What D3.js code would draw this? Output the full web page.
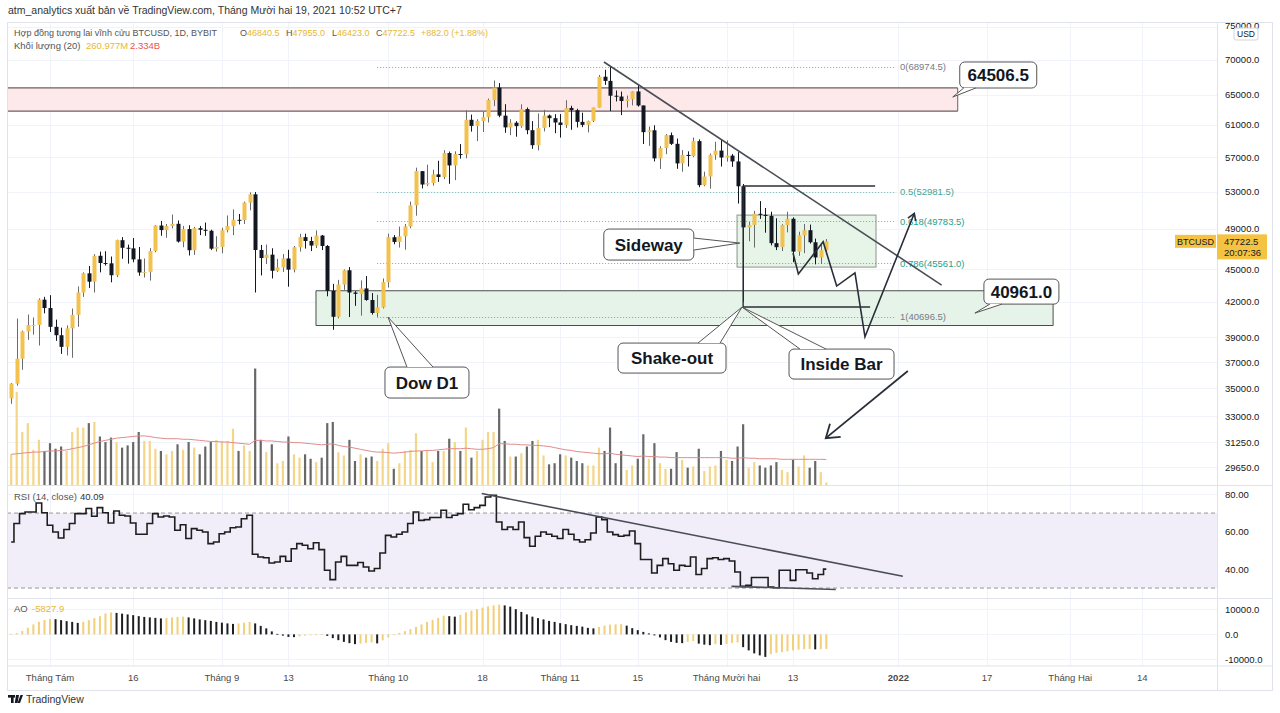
<!DOCTYPE html>
<html lang="vi">
<head>
<meta charset="UTF-8">
<title>BTCUSD 1D - BYBIT</title>
<script src="https://d3js.org/d3.v7.min.js"></script>
<style>
  body { margin: 0; background: #fff; }
  svg text { font-family: "Liberation Sans", Arial, sans-serif; }
  .note text { font-weight: bold; }
</style>
</head>
<body>
<svg id="chart" width="1280" height="713"></svg>
<script>
// ---- data (daily, starting 2021-07-25) ----
const firstDate = '2021-07-25';
const opens = [34270,35350,37260,39460,40000,40010,42200,41460,39850,39150,38200,39720,40870,42840,44610,43830,46290,45590,45560,44430,47840,47080,47020,45940,44690,44740,46760,49340,48870,49290,49520,47700,48970,46840,49070,48900,48800,46990,47160,48850,49280,49940,49920,51790,52700,46860,46070,46400,44850,45170,46030,44960,47130,48150,47760,47300,48310,47260,42990,40700,43570,44900,42840,42720,43210,42170,41030,41520,43790,48140,47660,48230,49250,51490,55340,53800,53970,54960,54660,57490,56010,57370,57350,61670,60880,61530,62010,64280,66000,62210,60690,61290,60850,63080,60330,58450,60620,62230,61880,61320,61000,63230,62930,61400,61010,61530,63280,67530,66940,64880,64770,64160,64400,65470,63560,60080,60320,56850,58100,59700,58620,56250,57270,57140,58960,53730,54720,57270,57790,56950,57180,56480,53600,49150,49400,50580,50470,50350,47540,47140,49390,50050,46700,48340,48860,47630,46130,46840];
const highs = [35400,40550,39540,40900,40640,42320,42450,42600,40460,39780,39970,41420,43390,44700,45310,46450,46700,46740,46220,47890,48150,47390,48050,47160,46030,47050,49380,49820,49500,50500,49870,49300,49370,49200,49300,49650,48910,48240,49120,50400,51050,50560,51900,52920,52950,47360,47400,47030,45990,46460,46880,47250,48490,48500,48180,48840,48370,47350,43630,44000,44980,45200,42970,43950,44350,42790,42630,44130,48500,48360,49230,49500,51890,55750,55340,56100,55500,56560,57840,57680,57700,58580,62930,62350,61740,62700,64490,67000,66640,63730,61750,61490,63710,63290,61500,62500,62980,62360,62400,62420,64270,63520,63120,62600,61560,63290,67790,68530,68974.5,65600,65450,64900,65500,66400,63560,60800,60960,58320,59850,60030,59270,57850,57700,59400,59180,55280,57440,58870,59170,59050,57370,57600,53860,49700,50900,51950,51200,50800,50100,49480,50800,50200,48700,49500,49440,48000,47400,47955];
const lows = [33880,35200,36400,38770,39200,38310,41000,39420,38690,37640,37510,37330,39850,42450,43260,42840,44700,45350,43770,44250,46000,45530,45660,44380,44220,43930,46630,48290,48080,49040,47600,47130,46320,46380,48350,48280,46850,46700,46530,48630,48350,49460,49500,50950,42840,44410,45500,44130,44740,44740,43370,44700,46700,47000,46750,47050,46850,42500,39600,40570,43080,40680,41650,40800,42100,40890,40696.5,41420,43290,47430,47100,46890,49060,50380,53360,53620,53680,54100,54420,53880,54300,56820,56850,60150,58960,60100,61320,63480,62000,60000,59700,59510,60650,59820,58000,57820,60170,60720,59950,59400,60620,60380,60680,60720,60050,61380,63280,66380,62820,64100,62280,63300,63570,63400,58600,58370,56480,55600,57350,58480,55610,55270,55880,57000,53500,53610,53330,56680,55880,56460,55840,51680,42000,47730,47100,50040,48600,47320,46850,46750,48640,45670,46290,46550,47500,45460,45500,46423];
const closes = [35350,37260,39460,40000,40010,42200,41460,39850,39150,38200,39720,40870,42840,44610,43830,46290,45590,45560,44430,47840,47080,47020,45940,44690,44740,46760,49340,48870,49290,49520,47700,48970,46840,49070,48900,48800,46990,47160,48850,49280,49940,49920,51790,52700,46860,46070,46400,44850,45170,46030,44960,47130,48150,47760,47300,48310,47260,42990,40700,43570,44900,42840,42720,43210,42170,41030,41520,43790,48140,47660,48230,49250,51490,55340,53800,53970,54960,54660,57490,56010,57370,57350,61670,60880,61530,62010,64280,66000,62210,60690,61290,60850,63080,60330,58450,60620,62230,61880,61320,61000,63230,62930,61400,61010,61530,63280,67530,66940,64880,64770,64160,64400,65470,63560,60080,60320,56850,58100,59700,58620,56250,57270,57140,58960,53730,54720,57270,57790,56950,57180,56480,53600,49150,49400,50580,50470,50350,47540,47140,49390,50050,46700,48340,48860,47630,46130,46840,47722.5];
// volume, billions of contracts
const volumes = [2.8,8.4,4.8,5.6,3.2,4.1,3.1,3.8,3.3,3.5,3.1,4.8,5.2,5.2,5.6,5.7,4.4,3.9,4.3,3.9,3.4,3.6,3.9,4.8,4.0,4.0,3.3,3.1,2.8,3.1,3.7,3.2,3.9,3.4,2.8,3.5,3.9,4.1,4.0,4.0,5.1,3.1,3.6,3.1,10.5,4.1,3.0,3.7,2.0,2.2,4.4,2.8,2.5,2.8,2.4,2.1,2.5,5.6,5.7,3.0,2.7,4.1,2.2,2.8,2.5,2.6,2.2,3.3,3.8,1.5,2.0,3.1,3.2,4.7,3.1,3.1,2.1,3.1,3.1,4.2,3.9,3.1,5.2,2.5,3.1,4.1,4.8,4.8,6.9,4.0,2.6,2.6,2.9,3.5,4.0,4.1,2.7,1.9,2.0,2.8,2.7,2.5,2.2,2.0,1.8,1.8,3.4,3.1,5.2,2.0,3.1,1.4,1.8,2.4,4.6,2.4,3.8,2.0,1.5,1.5,3.0,2.3,1.6,1.7,3.3,1.3,1.7,1.8,3.1,2.3,2.2,3.5,5.5,1.6,2.1,1.8,1.6,1.8,2.1,1.4,1.2,2.3,1.7,2.7,1.6,2.2,1.2,0.261];
const volumeMA = [2.8,2.85,2.9,2.95,3.0,3.0,3.05,3.1,3.1,3.15,3.2,3.3,3.4,3.5,3.65,3.8,3.95,4.05,4.15,4.25,4.3,4.35,4.4,4.45,4.45,4.4,4.3,4.25,4.2,4.2,4.2,4.15,4.15,4.1,4.05,4.0,3.95,3.95,3.9,3.9,3.85,3.8,3.75,3.7,4.05,4.05,4.0,4.0,3.95,3.9,3.9,3.85,3.85,3.8,3.75,3.7,3.65,3.7,3.75,3.6,3.5,3.45,3.35,3.25,3.15,3.05,3.0,3.0,2.95,2.9,2.95,3.0,3.05,3.1,3.1,3.15,3.15,3.2,3.25,3.3,3.3,3.3,3.35,3.3,3.25,3.25,3.3,3.4,3.75,3.75,3.7,3.7,3.65,3.65,3.6,3.6,3.55,3.5,3.4,3.3,3.2,3.15,3.05,3.0,2.95,2.9,2.85,2.85,2.9,2.8,2.75,2.7,2.65,2.6,2.65,2.6,2.6,2.55,2.55,2.5,2.5,2.5,2.5,2.5,2.5,2.5,2.5,2.5,2.5,2.5,2.45,2.45,2.5,2.45,2.45,2.4,2.4,2.4,2.4,2.35,2.35,2.35,2.35,2.35,2.35,2.35,2.35,2.334];
const rsiValues = [54.6,64.4,69.7,70.6,70.6,75.4,70.2,63.5,59.9,56.7,61.2,64.4,69.7,69.7,72.4,68.3,72.9,70.2,64.7,71.1,68.8,68.4,64.7,58.7,58.7,64.4,69.7,67.9,68.4,67.9,60.8,63.8,56.4,61.7,60.8,59.9,53.7,54.6,59.0,59.9,62.2,62.6,67.0,68.8,48.0,46.6,46.2,43.4,43.9,46.9,44.3,51.0,53.7,52.8,51.0,54.2,50.5,39.5,34.5,43.9,46.9,42.1,42.1,43.6,41.2,39.1,40.4,48.7,58.1,57.2,58.7,59.9,64.4,70.6,66.1,66.5,67.6,67.6,71.5,67.6,68.8,69.7,74.7,71.8,72.9,74.1,78.6,79.5,65.2,61.2,62.6,61.2,65.2,56.9,52.3,57.6,59.9,58.7,57.6,56.4,61.2,58.7,55.8,54.6,55.8,59.4,67.9,66.5,59.9,58.5,57.6,58.1,60.4,53.7,45.2,45.2,38.0,42.1,45.7,43.0,39.5,42.1,41.6,46.6,37.2,40.4,45.7,46.2,45.2,45.7,44.4,38.6,30.9,31.5,35.6,35.6,35.6,30.6,30.2,39.5,39.5,34.1,39.8,39.8,38.0,35.0,37.2,40.09];
// awesome oscillator, thousands
const aoValues = [0.2,0.5,1.4,2.7,4.0,5.0,5.8,6.2,6.1,5.7,5.3,5.0,4.6,5.0,5.7,6.5,7.3,8.4,8.8,8.6,8.3,8.0,7.7,7.3,7.0,6.8,6.6,6.4,6.6,6.8,7.0,7.1,6.8,6.4,6.0,5.7,5.4,5.0,4.7,4.4,4.2,4.4,4.7,5.0,4.4,3.4,2.4,1.2,0.2,-0.5,-1.0,-1.1,-0.8,-0.5,-0.2,0.0,0.1,-0.6,-1.5,-2.3,-3.0,-3.5,-3.9,-3.7,-3.4,-3.2,-3.6,-2.4,-1.2,0.0,0.6,1.3,2.1,3.0,4.0,5.0,5.8,6.6,7.5,7.3,7.1,7.8,8.8,9.5,10.1,10.7,11.2,11.6,11.9,11.6,11.1,10.1,9.0,8.0,7.1,6.5,6.0,5.4,5.0,4.5,4.1,3.7,3.4,3.1,2.6,2.4,3.0,3.5,3.9,4.0,4.1,3.5,2.5,1.7,1.0,0.4,-0.4,-1.2,-2.3,-3.0,-3.4,-3.5,-3.0,-2.6,-3.7,-4.1,-4.3,-3.9,-4.2,-3.8,-3.4,-3.2,-5.1,-6.4,-7.6,-8.4,-9.0,-7.9,-7.4,-7.1,-6.8,-6.4,-6.1,-5.9,-5.8,-6.0,-5.9,-5.8279];

const priceTicks = [75000,70000,65000,61000,57000,53000,49000,45000,42000,39000,37000,35000,33000,31250,29650];
const rsiTicks = [80,60,40];
const aoTicks = [10,0,-10];
const timeTicks = [['2021-08-01','Tháng Tám'],['2021-08-16','16'],['2021-09-01','Tháng 9'],['2021-09-13','13'],
  ['2021-10-01','Tháng 10'],['2021-10-18','18'],['2021-11-01','Tháng 11'],['2021-11-15','15'],
  ['2021-12-01','Tháng Mười hai'],['2021-12-13','13'],['2022-01-01','2022'],['2022-01-17','17'],
  ['2022-02-01','Tháng Hai'],['2022-02-14','14']];
const fibLevels = [['0',68974.5,'#787b86'],['0.5',52981.5,'#43a58f'],['0.618',49783.5,'#26a08c'],['0.786',45561.0,'#26a08c'],['1',40696.5,'#787b86']];

// drawings (day index from first date, price)
const pinkZone = {from: -6, to: 170.7, low: 62800, high: 65950};
const greenZone = {from: 54.97, to: 187.9, low: 39960, high: 43000};
const sidewayBox = {from: 130.9, to: 155.96, low: 45200, high: 50440};
const fibRange = {from: 66, to: 159.4};
const trendLine = [[106.9, 69660], [167.8, 43520]];
const shakeLines = [[[131.9, 53630], [155.8, 53630]], [[132, 53630], [132, 41545]], [[132, 41545], [154.9, 41545]]];
const zigzag = [[141.0, 46560], [141.96, 44540], [146.43, 47680], [148.87, 43430], [152.17, 44660], [153.97, 39020], [162.87, 50630]];
const bigArrow = [[161.7, 36300], [146.9, 31510]];
const rsiLines = [[[84.85, 80.4], [160.8, 36.3]], [[129.9, 30.9], [148.7, 29.2]]];
const callouts = [
  {text: '64506.5', day: 169.8, price: 64705, box: [7, -35, 77, 26], tail: [[4, 26], [16, 26]]},
  {text: '40961.0', day: 173.8, price: 41020, box: [9, -34, 75, 25], tail: [[6, 25], [18, 25]]},
  {text: 'Sideway', day: 131.4, price: 47550, box: [-136, -14, 90, 31], tail: [[90, 9], [90, 21]]},
  {text: 'Dow D1', day: 67.95, price: 40680, box: [-3, 50, 84, 31], tail: [[22, 0], [48, 0]]},
  {text: 'Shake-out', day: 131.8, price: 41545, box: [-124, 36, 108, 30], tail: [[80, 0], [102, 0]]},
  {text: 'Inside Bar', day: 131.8, price: 41545, box: [47, 42, 105, 30], tail: [[11, 0], [37, 0]]}
];

// ---- layout ----
const L = 7, R = 1217, TOP = 22, MAIN_B = 485.5, RSI_B = 598.5, AO_B = 666, AXIS_B = 690, SCALE_R = 1272;
const svg = d3.select('#chart');
const parseDay = d3.utcParse('%Y-%m-%d');
const day0 = parseDay(firstDate);
const dates = opens.map((_, i) => d3.utcDay.offset(day0, i));

const x = d3.scaleUtc().domain([parseDay('2021-08-01'), parseDay('2021-12-01')]).range([50, 726.5]);
const xd = d => x(new Date(day0.getTime() + d * 864e5));
const y = d3.scaleLog().domain([75000, 29650]).range([27, 467]);
const yVol = d3.scaleLinear().domain([0, 10]).range([MAIN_B, MAIN_B - 111.4]);
const yRsi = d3.scaleLinear().domain([40, 80]).range([569.3, 494.3]);
const yAo = d3.scaleLinear().domain([-10, 10]).range([659.4, 609.4]);

const defs = svg.append('defs');
function clip(id, x0, y0, x1, y1) {
  defs.append('clipPath').attr('id', id).append('rect').attr('x', x0).attr('y', y0).attr('width', x1 - x0).attr('height', y1 - y0);
  return 'url(#' + id + ')';
}
const clipMain = clip('cm', L, TOP, R, MAIN_B);
const clipRsi = clip('cr', L, MAIN_B, R, RSI_B);
const clipAo = clip('ca', L, RSI_B, R, AO_B);

// grid
const grid = svg.append('g').attr('stroke', '#f0f3fa').attr('stroke-width', 1);
timeTicks.forEach(t => {
  const tx = Math.round(x(parseDay(t[0]))) + 0.5;
  grid.append('line').attr('x1', tx).attr('x2', tx).attr('y1', TOP).attr('y2', AO_B);
});
priceTicks.forEach(p => grid.append('line').attr('x1', L).attr('x2', R).attr('y1', Math.round(y(p)) + 0.5).attr('y2', Math.round(y(p)) + 0.5));
rsiTicks.forEach(v => grid.append('line').attr('x1', L).attr('x2', R).attr('y1', yRsi(v)).attr('y2', yRsi(v)));
aoTicks.forEach(v => grid.append('line').attr('x1', L).attr('x2', R).attr('y1', yAo(v)).attr('y2', yAo(v)));

// ---- main pane ----
const main = svg.append('g').attr('clip-path', clipMain);

function zone(z, fill, stroke) {
  const g = main.append('g');
  g.append('rect').attr('x', xd(z.from)).attr('y', y(z.high)).attr('width', xd(z.to) - xd(z.from))
    .attr('height', y(z.low) - y(z.high)).attr('fill', fill);
  [z.high, z.low].forEach(p => g.append('line').attr('x1', xd(z.from)).attr('x2', xd(z.to))
    .attr('y1', y(p)).attr('y2', y(p)).attr('stroke', stroke).attr('stroke-width', 1.2));
  g.append('line').attr('x1', xd(z.to)).attr('x2', xd(z.to)).attr('y1', y(z.high)).attr('y2', y(z.low))
    .attr('stroke', stroke).attr('stroke-width', 1);
  return g;
}
zone(pinkZone, '#fde8ea', '#6b5f62');
const gz = zone(greenZone, '#e6f3e8', '#4a4f4a');
gz.append('line').attr('x1', xd(greenZone.from)).attr('x2', xd(greenZone.from))
  .attr('y1', y(greenZone.high)).attr('y2', y(greenZone.low)).attr('stroke', '#4a4f4a');
main.append('rect').attr('x', xd(sidewayBox.from)).attr('y', y(sidewayBox.high))
  .attr('width', xd(sidewayBox.to) - xd(sidewayBox.from)).attr('height', y(sidewayBox.low) - y(sidewayBox.high))
  .attr('fill', '#e3f2e4').attr('fill-opacity', 0.85).attr('stroke', '#8a958b').attr('stroke-width', 1);

// fib levels
fibLevels.forEach(f => {
  main.append('line').attr('x1', xd(fibRange.from)).attr('x2', xd(fibRange.to))
    .attr('y1', Math.round(y(f[1])) + 0.5).attr('y2', Math.round(y(f[1])) + 0.5)
    .attr('stroke', f[2]).attr('stroke-opacity', 0.75).attr('stroke-dasharray', '1,2');
  main.append('text').attr('x', xd(fibRange.to) + 5).attr('y', y(f[1]) + 3.5)
    .attr('font-size', 9.5).attr('fill', f[2]).text(f[0] + '(' + f[1].toFixed(1) + ')');
});

// volume
const barW = 2.2;
main.append('g').selectAll('rect').data(volumes).join('rect')
  .attr('x', (d, i) => x(dates[i]) - barW / 2).attr('width', barW)
  .attr('y', d => yVol(d)).attr('height', d => MAIN_B - yVol(d))
  .attr('fill', (d, i) => closes[i] >= opens[i] ? '#f3d27e' : '#4d4d4d')
  .attr('fill-opacity', (d, i) => closes[i] >= opens[i] ? 0.9 : 0.85);
main.append('path').datum(volumeMA)
  .attr('d', d3.line().x((d, i) => x(dates[i])).y(d => yVol(d)))
  .attr('fill', 'none').attr('stroke', '#e08b8b').attr('stroke-width', 1);

// candles
const candles = main.append('g').selectAll('g').data(closes).join('g');
const up = i => closes[i] >= opens[i];
candles.append('line')
  .attr('x1', (d, i) => Math.round(x(dates[i])) + 0.5).attr('x2', (d, i) => Math.round(x(dates[i])) + 0.5)
  .attr('y1', (d, i) => y(highs[i])).attr('y2', (d, i) => y(lows[i]))
  .attr('stroke', (d, i) => up(i) ? '#6b6b6b' : '#131722').attr('stroke-width', 1);
candles.append('rect')
  .attr('x', (d, i) => Math.round(x(dates[i])) - 1.5).attr('width', 4)
  .attr('y', (d, i) => y(Math.max(opens[i], closes[i])))
  .attr('height', (d, i) => Math.max(1, Math.abs(y(opens[i]) - y(closes[i]))))
  .attr('fill', (d, i) => up(i) ? '#f2c14e' : '#131722');

// drawings
const ink = '#2a2e39';
const pt = p => [xd(p[0]), y(p[1])];
main.append('line').attr('x1', pt(trendLine[0])[0]).attr('y1', pt(trendLine[0])[1])
  .attr('x2', pt(trendLine[1])[0]).attr('y2', pt(trendLine[1])[1]).attr('stroke', '#4a4d55').attr('stroke-width', 1.6);
shakeLines.forEach(s => main.append('line').attr('x1', pt(s[0])[0]).attr('y1', pt(s[0])[1])
  .attr('x2', pt(s[1])[0]).attr('y2', pt(s[1])[1]).attr('stroke', ink).attr('stroke-width', 1.4));

function arrowHead(p0, p1, len, ang) {
  const a = Math.atan2(p1[1] - p0[1], p1[0] - p0[0]);
  const l = [p1[0] - len * Math.cos(a - ang), p1[1] - len * Math.sin(a - ang)];
  const r = [p1[0] - len * Math.cos(a + ang), p1[1] - len * Math.sin(a + ang)];
  return 'M' + l + 'L' + p1 + 'L' + r;
}
const zz = zigzag.map(pt);
main.append('path').attr('d', d3.line()(zz)).attr('fill', 'none').attr('stroke', ink).attr('stroke-width', 1.6);
main.append('path').attr('d', arrowHead(zz[zz.length - 2], zz[zz.length - 1], 8, 0.55))
  .attr('fill', 'none').attr('stroke', ink).attr('stroke-width', 1.6);
const ba = bigArrow.map(pt);
main.append('line').attr('x1', ba[0][0]).attr('y1', ba[0][1]).attr('x2', ba[1][0]).attr('y2', ba[1][1])
  .attr('stroke', ink).attr('stroke-width', 1.8);
main.append('path').attr('d', arrowHead(ba[0], ba[1], 15, 0.6))
  .attr('fill', 'none').attr('stroke', ink).attr('stroke-width', 1.8);

// callouts
const notes = svg.append('g').attr('class', 'note').attr('clip-path', clipMain);
callouts.forEach(c => {
  const ax = xd(c.day), ay = y(c.price);
  const bx = ax + c.box[0], by = ay + c.box[1], bw = c.box[2], bh = c.box[3];
  const t0 = [bx + c.tail[0][0], by + c.tail[0][1]], t1 = [bx + c.tail[1][0], by + c.tail[1][1]];
  const g = notes.append('g');
  g.append('rect').attr('x', bx).attr('y', by).attr('width', bw).attr('height', bh).attr('rx', 5)
    .attr('fill', '#fff').attr('stroke', '#555').attr('stroke-width', 1);
  g.append('path').attr('d', 'M' + t0 + 'L' + [ax, ay] + 'L' + t1 + 'Z').attr('fill', '#fff');
  g.append('path').attr('d', 'M' + t0 + 'L' + [ax, ay] + 'L' + t1).attr('fill', 'none').attr('stroke', '#555').attr('stroke-width', 1);
  g.append('text').attr('x', bx + bw / 2).attr('y', by + bh / 2 + 6).attr('text-anchor', 'middle')
    .attr('font-size', 17).attr('fill', '#131722').text(c.text);
});

// ---- RSI pane ----
const rsiG = svg.append('g').attr('clip-path', clipRsi);
rsiG.append('rect').attr('x', L).attr('width', R - L).attr('y', yRsi(70)).attr('height', yRsi(30) - yRsi(70)).attr('fill', '#f1eefa');
[70, 30].forEach(v => rsiG.append('line').attr('x1', L).attr('x2', R).attr('y1', yRsi(v)).attr('y2', yRsi(v))
  .attr('stroke', '#9598a1').attr('stroke-dasharray', '4,3'));
rsiG.append('path').datum(rsiValues)
  .attr('d', d3.line().curve(d3.curveStep).x((d, i) => x(dates[i])).y(d => yRsi(d)))
  .attr('fill', 'none').attr('stroke', '#1e1e1e').attr('stroke-width', 1.6);
rsiLines.forEach(s => rsiG.append('line').attr('x1', xd(s[0][0])).attr('y1', yRsi(s[0][1]))
  .attr('x2', xd(s[1][0])).attr('y2', yRsi(s[1][1])).attr('stroke', '#4a4d55').attr('stroke-width', 1.6));

// ---- AO pane ----
const aoG = svg.append('g').attr('clip-path', clipAo);
aoG.selectAll('rect').data(aoValues).join('rect')
  .attr('x', (d, i) => x(dates[i]) - 1).attr('width', 2)
  .attr('y', d => Math.min(yAo(d), yAo(0))).attr('height', d => Math.max(0.8, Math.abs(yAo(d) - yAo(0))))
  .attr('fill', (d, i) => (i === 0 || d >= aoValues[i - 1]) ? '#f2cf7a' : '#1e1e1e');

// ---- frame and separators ----
const frame = svg.append('g').attr('stroke', '#e0e3eb').attr('fill', 'none');
frame.append('rect').attr('x', L + 0.5).attr('y', TOP + 0.5).attr('width', SCALE_R - L).attr('height', AXIS_B - TOP);
[MAIN_B, RSI_B, AO_B].forEach(v => frame.append('line').attr('x1', L).attr('x2', SCALE_R).attr('y1', v).attr('y2', v));
frame.append('line').attr('x1', R + 0.5).attr('x2', R + 0.5).attr('y1', TOP).attr('y2', AXIS_B);

// price scale (the top tick sits partly under the currency badge, as in TradingView)
const scale = svg.append('g').attr('font-size', 9.5).attr('fill', '#131722');
priceTicks.forEach(p => scale.append('text').attr('x', 1225).attr('y', y(p) + (p === 75000 ? 1.5 : 3.5)).text(p.toFixed(1)));
rsiTicks.forEach(v => scale.append('text').attr('x', 1225).attr('y', yRsi(v) + 3.5).text(v.toFixed(2)));
aoTicks.forEach(v => scale.append('text').attr('x', 1225).attr('y', yAo(v) + 3.5).text((v * 1000).toFixed(1)));
scale.append('rect').attr('x', 1234).attr('y', 28).attr('width', 24).attr('height', 12).attr('rx', 2)
  .attr('fill', '#fff').attr('stroke', '#d1d4dc');
scale.append('text').attr('x', 1246).attr('y', 37).attr('text-anchor', 'middle').attr('font-size', 8.5).text('USD');
const lastY = y(closes[closes.length - 1]);
svg.append('rect').attr('x', 1175).attr('y', lastY - 6.5).attr('width', 41).attr('height', 13).attr('fill', '#f5c342');
svg.append('text').attr('x', 1195.5).attr('y', lastY + 3.5).attr('text-anchor', 'middle').attr('font-size', 9).attr('fill', '#131722').text('BTCUSD');
svg.append('rect').attr('x', 1217).attr('y', lastY - 7).attr('width', 50).attr('height', 25).attr('fill', '#f5c342');
svg.append('text').attr('x', 1224).attr('y', lastY + 4).attr('font-size', 9.5).attr('fill', '#131722').text(closes[closes.length - 1].toFixed(1));
svg.append('text').attr('x', 1224).attr('y', lastY + 14.5).attr('font-size', 9.5).attr('fill', '#131722').text('20:07:36');

// time axis
timeTicks.forEach(t => svg.append('text').attr('x', x(parseDay(t[0]))).attr('y', 681).attr('text-anchor', 'middle')
  .attr('font-size', 9.5).attr('fill', '#4a4a4a').attr('font-weight', t[1] === '2022' ? 'bold' : null).text(t[1]));

// header and legends
svg.append('text').attr('x', 8).attr('y', 14).attr('font-size', 10.5).attr('fill', '#333').text('atm_analytics xuất bản về TradingView.com, Tháng Mười hai 19, 2021 10:52 UTC+7');
const gold = '#e8b732', grey = '#555';
const leg = svg.append('text').attr('x', 14).attr('y', 36).attr('font-size', 9).attr('fill', grey);
leg.append('tspan').text('Hợp đồng tương lai vĩnh cửu BTCUSD, 1D, BYBIT');
[['O', '46840.5', 240], ['H', '47955.0', 286], ['L', '46423.0', 332], ['C', '47722.5', 376]].forEach(o => {
  leg.append('tspan').attr('x', o[2]).text(o[0]);
  leg.append('tspan').attr('fill', gold).text(o[1]);
});
leg.append('tspan').attr('x', 421).attr('fill', gold).text('+882.0 (+1.88%)');
const leg2 = svg.append('text').attr('x', 14).attr('y', 49).attr('font-size', 9.5).attr('fill', grey);
leg2.append('tspan').text('Khối lượng (20)');
leg2.append('tspan').attr('x', 86).attr('fill', gold).text('260.977M');
leg2.append('tspan').attr('x', 130).attr('fill', '#ef5350').text('2.334B');
const leg3 = svg.append('text').attr('x', 14).attr('y', 500).attr('font-size', 9.5).attr('fill', grey);
leg3.append('tspan').text('RSI (14, close)');
leg3.append('tspan').attr('x', 80).attr('fill', '#333').text(rsiValues[rsiValues.length - 1].toFixed(2));
const leg4 = svg.append('text').attr('x', 14).attr('y', 612).attr('font-size', 9.5).attr('fill', grey);
leg4.append('tspan').text('AO');
leg4.append('tspan').attr('x', 32).attr('fill', gold).text((aoValues[aoValues.length - 1] * 1000).toFixed(1));

// TradingView mark
const logo = svg.append('g').attr('fill', '#131722');
logo.append('rect').attr('x', 8).attr('y', 695).attr('width', 7).attr('height', 2.6);
logo.append('rect').attr('x', 11).attr('y', 695).attr('width', 2.6).attr('height', 8);
logo.append('path').attr('d', 'M16,695 L19,695 L17.5,703 L14.8,703 Z');
logo.append('path').attr('d', 'M17.5,703 L20.5,695 L23,695 L20,703 Z');
svg.append('text').attr('x', 26).attr('y', 703).attr('font-size', 10.5).attr('fill', '#333').text('TradingView');
</script>
</body>
</html>
